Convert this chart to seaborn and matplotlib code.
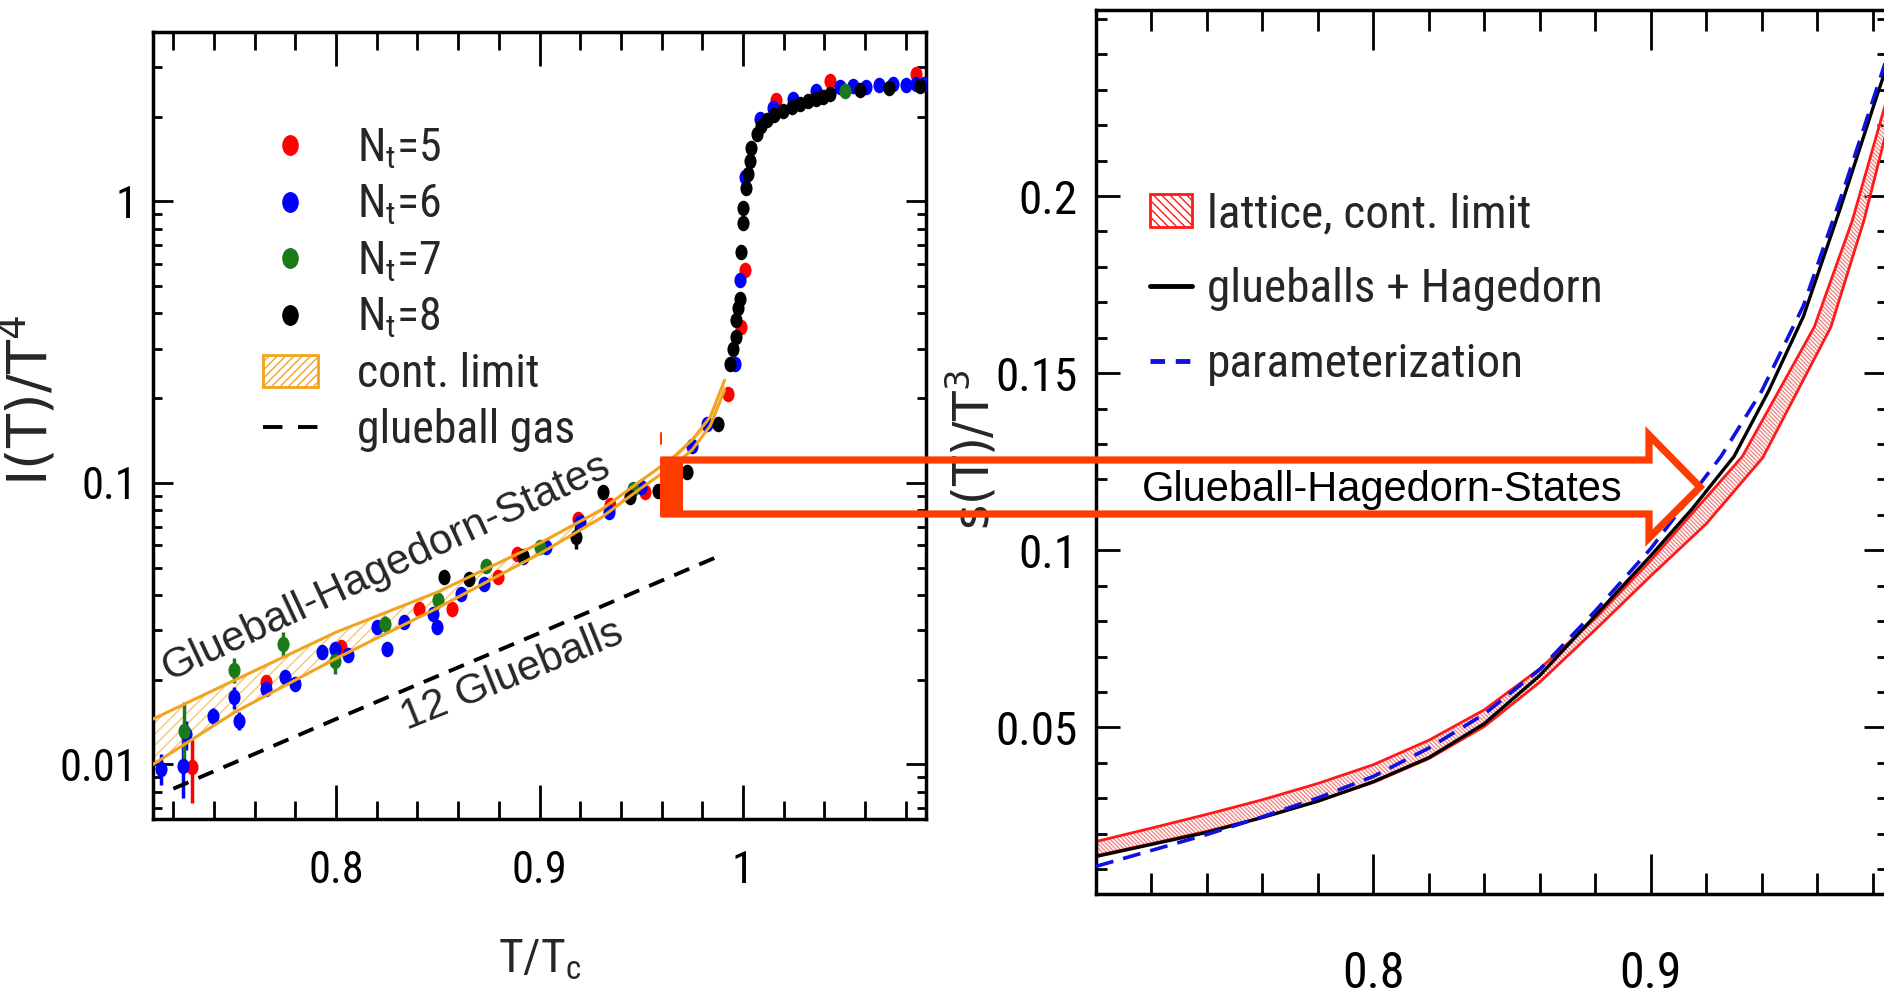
import numpy as np
import matplotlib
matplotlib.use("Agg")
import matplotlib.pyplot as plt
import matplotlib.ticker as mticker
import seaborn as sns
from matplotlib.lines import Line2D
from matplotlib.patches import Patch, Polygon, Rectangle
from matplotlib.path import Path

# ---------------- left panel: interaction measure I(T)/T^4 ----------------
T5 = [0.729, 0.7657, 0.8023, 0.8409, 0.8569, 0.8794, 0.8889, 0.919, 0.9349, 0.9519,
      0.965, 0.9927, 0.9993, 1.001, 1.0165, 1.0427, 1.085]
I5 = [0.0098, 0.0196, 0.0261, 0.0357, 0.0357, 0.0462, 0.0559, 0.0745, 0.0832, 0.0928,
      0.112, 0.2077, 0.357, 0.5694, 2.285, 2.69, 2.84]
E5 = [0.0025, 0.0012, 0.0012, 0.0012, 0.0012, 0.0015, 0.0015, 0.002, 0.002, 0.002,
      0.003, 0.006, 0.01, 0.015, 0.03, 0.03, 0.03]

T6 = [0.714, 0.7247, 0.726, 0.7393, 0.7497, 0.7525, 0.7657, 0.775, 0.7798, 0.793,
      0.7995, 0.8061, 0.8202, 0.8249, 0.8333, 0.8475, 0.8494, 0.8616, 0.8729, 0.8917,
      0.903, 0.9198, 0.934, 0.95, 0.975, 0.9821, 0.996, 0.9985, 1.0009, 1.0083,
      1.0148, 1.0246, 1.0361, 1.0476, 1.054, 1.0607, 1.067, 1.0738, 1.08, 1.085, 1.089]
I6 = [0.00965, 0.0099, 0.0128, 0.0149, 0.0173, 0.0143, 0.0186, 0.0204, 0.0193, 0.0251,
      0.0257, 0.0244, 0.0307, 0.0257, 0.0320, 0.0343, 0.0307, 0.0404, 0.0438, 0.0545,
      0.0591, 0.0724, 0.0786, 0.0965, 0.135, 0.162, 0.2646, 0.5263, 1.22, 1.97,
      2.15, 2.32, 2.47, 2.55, 2.58, 2.56, 2.60, 2.62, 2.60, 2.62, 2.61]
E6 = [0.0012, 0.0023, 0.0015, 0.001, 0.0015, 0.001, 0.001, 0.0012, 0.001, 0.0012,
      0.0015, 0.0012, 0.0012, 0.0015, 0.0012, 0.0012, 0.0015, 0.0015, 0.0015, 0.0015,
      0.002, 0.002, 0.002, 0.002, 0.003, 0.004, 0.006, 0.01, 0.02, 0.03,
      0.03, 0.03, 0.03, 0.03, 0.03, 0.03, 0.03, 0.03, 0.03, 0.03, 0.03]

T7 = [0.7252, 0.7497, 0.7741, 0.7995, 0.824, 0.8503, 0.8738, 0.9001, 0.9462, 1.05]
I7 = [0.0132, 0.0217, 0.0268, 0.0234, 0.0316, 0.0383, 0.0509, 0.0591, 0.0953, 2.47]
E7 = [0.0035, 0.0022, 0.0028, 0.0025, 0.002, 0.0025, 0.0015, 0.0015, 0.002, 0.03]

T8 = [0.8531, 0.8653, 0.8917, 0.918, 0.9312, 0.9444, 0.9583, 0.9726, 0.9878, 0.9935,
      0.9950, 0.9968, 0.9968, 0.9975, 0.9985, 0.9993, 1.0001, 1.0001, 1.0017, 1.0025,
      1.0034, 1.0042, 1.0067, 1.009, 1.0116, 1.0155, 1.0197, 1.024, 1.0279, 1.032,
      1.0361, 1.0395, 1.0427, 1.0574, 1.072, 1.0869]
I8 = [0.0462, 0.0456, 0.0552, 0.0642, 0.0928, 0.0891, 0.0939, 0.1092, 0.162, 0.2646,
      0.30, 0.33, 0.38, 0.42, 0.45, 0.66, 0.84, 0.95, 1.12, 1.25,
      1.39, 1.55, 1.73, 1.85, 1.94, 2.03, 2.10, 2.17, 2.22, 2.27,
      2.31, 2.36, 2.41, 2.49, 2.54, 2.57]
E8 = [0.002, 0.002, 0.002, 0.006, 0.003, 0.003, 0.003, 0.003, 0.004, 0.006,
      0.006, 0.008, 0.008, 0.01, 0.01, 0.01, 0.01, 0.01, 0.02, 0.02,
      0.02, 0.02, 0.02, 0.02, 0.02, 0.02, 0.02, 0.02, 0.02, 0.02,
      0.02, 0.02, 0.02, 0.02, 0.02, 0.02]

# continuum limit band
band_T = [0.71, 0.75, 0.80, 0.85, 0.90, 0.93, 0.95, 0.965, 0.975, 0.984, 0.991]
band_hi = [0.0145, 0.0199, 0.0295, 0.041, 0.061, 0.080, 0.102, 0.122, 0.142, 0.172, 0.232]
band_lo = [0.0100, 0.0153, 0.0238, 0.0360, 0.056, 0.075, 0.096, 0.114, 0.131, 0.160, 0.214]

# glueball gas (12 glueballs)
gas_T = [0.72, 0.80, 0.90, 0.99]
gas_I = [0.0082, 0.0145, 0.0293, 0.0557]

# ---------------- right panel: entropy s(T)/T^3 ----------------
lat_hi_T = [0.70, 0.72, 0.74, 0.76, 0.78, 0.80, 0.82, 0.84, 0.86, 0.88, 0.90, 0.915,
            0.933, 0.9589, 0.9726, 0.9855]
lat_hi = [0.0178, 0.0216, 0.0255, 0.0296, 0.0342, 0.0395, 0.0464, 0.0550, 0.0666,
          0.0808, 0.0972, 0.1105, 0.1265, 0.163, 0.193, 0.2285]
lat_lo_T = [0.70, 0.72, 0.74, 0.76, 0.78, 0.80, 0.82, 0.84, 0.86, 0.88, 0.90, 0.92,
            0.9404, 0.9649, 0.9768, 0.9855]
lat_lo = [0.0138, 0.0172, 0.0207, 0.0246, 0.0292, 0.0345, 0.0412, 0.0503, 0.0628,
          0.0776, 0.0928, 0.1075, 0.1262, 0.163, 0.193, 0.220]

gh_T = [0.70, 0.72, 0.74, 0.76, 0.78, 0.80, 0.82, 0.84, 0.86, 0.88, 0.90, 0.915,
        0.93, 0.9425, 0.955, 0.9685, 0.982, 0.9855]
gh_s = [0.0136, 0.0170, 0.0204, 0.0246, 0.0292, 0.0347, 0.0415, 0.0511, 0.0647,
        0.0816, 0.0985, 0.1118, 0.1265, 0.145, 0.166, 0.197, 0.2295, 0.2375]

par_T = [0.70, 0.72, 0.74, 0.76, 0.78, 0.80, 0.82, 0.84, 0.86, 0.88, 0.90, 0.9253,
         0.94, 0.955, 0.97, 0.9855]
par_s = [0.0108, 0.0153, 0.0198, 0.0248, 0.0301, 0.0362, 0.0442, 0.0538, 0.0664,
         0.0829, 0.1005, 0.1265, 0.145, 0.169, 0.203, 0.240]

nt_labels = ["N$_t$=5", "N$_t$=6", "N$_t$=7", "N$_t$=8"]
nt_colors = ["#ff0000", "#0000ff", "#1a7a1a", "#000000"]

ORANGE = "#f2a31f"
RED = "#ff1a1a"
ARROW = "#ff3c00"
NARROW = ["Liberation Sans Narrow", "Roboto Condensed", "DejaVu Sans Condensed",
          "Noto Sans Condensed", "Open Sans Condensed", "DejaVu Sans"]

sns.set_theme(style="ticks")
plt.rcParams["font.family"] = NARROW
plt.rcParams["font.stretch"] = "condensed"
plt.rcParams["mathtext.default"] = "regular"
plt.rcParams["hatch.linewidth"] = 1.0
plt.rcParams["axes.linewidth"] = 2.5

W, H = 1884, 996
fig = plt.figure(figsize=(W / 100, H / 100), dpi=100)
ax1 = fig.add_axes([153 / W, 1 - 819 / H, 773 / W, 787 / H])
ax2 = fig.add_axes([1096 / W, 1 - 894 / H, 792 / W, 884 / H])

# elongated dot like in the original picture
circ = Path.unit_circle()
dot = Path(circ.vertices * np.array([0.78, 1.0]), circ.codes)

# ---- left panel
ax1.fill_between(band_T, band_lo, band_hi, facecolor="none", edgecolor="#f6c77a",
                 hatch="///", linewidth=0, zorder=1)
for T, I, E, c in zip([T5, T6, T7, T8], [I5, I6, I7, I8], [E5, E6, E7, E8], nt_colors):
    ax1.errorbar(T, I, yerr=E, fmt="none", ecolor=c, elinewidth=2.5, capsize=0, zorder=2)
    sns.scatterplot(x=T, y=I, ax=ax1, color=c, marker=dot, s=125, linewidth=0,
                    legend=False, zorder=3)
sns.lineplot(x=band_T, y=band_hi, ax=ax1, color=ORANGE, lw=2.2, estimator=None, zorder=4)
sns.lineplot(x=band_T, y=band_lo, ax=ax1, color=ORANGE, lw=2.2, estimator=None, zorder=4)
sns.lineplot(x=gas_T, y=gas_I, ax=ax1, color="black", lw=2.8, estimator=None, zorder=4)
ax1.lines[-1].set_dashes([4.2, 2.8])

ax1.set_yscale("log")
ax1.set_xlim(0.71, 1.09)
ax1.set_ylim(0.0064, 4.0)
ax1.xaxis.set_major_locator(mticker.FixedLocator([0.8, 0.9, 1.0]))
ax1.xaxis.set_minor_locator(mticker.MultipleLocator(0.02))
ax1.xaxis.set_major_formatter(mticker.FuncFormatter(lambda v, p: f"{v:g}"))
ax1.yaxis.set_major_locator(mticker.FixedLocator([0.01, 0.1, 1.0]))
ax1.yaxis.set_minor_locator(mticker.LogLocator(base=10, subs=np.arange(2, 10)))
ax1.yaxis.set_major_formatter(mticker.FuncFormatter(lambda v, p: f"{v:g}"))
ax1.yaxis.set_minor_formatter(mticker.NullFormatter())
ax1.tick_params(which="both", direction="in", top=True, right=True, width=2, colors="black")
ax1.tick_params(axis="x", which="major", length=24.5, pad=22, labelsize=32)
ax1.tick_params(axis="x", which="minor", length=13)
ax1.tick_params(axis="y", which="major", length=14.5, pad=11, labelsize=32)
ax1.tick_params(axis="y", which="minor", length=6.5)
ax1.set_xlabel("T/T$_c$", fontsize=34)
ax1.xaxis.set_label_coords(0.5, -0.179)
ax1.xaxis.label.set_verticalalignment("center")
ax1.set_ylabel("I(T)/T$^4$", fontsize=40, family="DejaVu Sans", stretch="normal")
ax1.yaxis.set_label_coords(-0.162, 0.532)
ax1.yaxis.label.set_verticalalignment("center")

h_left = [Line2D([], [], marker=dot, ls="none", color=c, markersize=14) for c in nt_colors]
h_left.append(Patch(facecolor="none", edgecolor=ORANGE, hatch="////", linewidth=2))
h_left.append(Line2D([], [], color="black", lw=2.8, dashes=[5, 4]))
ax1.legend(h_left, nt_labels + ["cont. limit", "glueball gas"], loc="upper left",
           bbox_to_anchor=(0.1423, 0.880), frameon=False, fontsize=33,
           handlelength=1.2, handletextpad=0.85, labelspacing=0.26,
           borderpad=0, borderaxespad=0)

ax1.text(0.8272, 0.04628, "Glueball-Hagedorn-States", rotation=25,
         rotation_mode="anchor", ha="center", va="baseline", fontsize=30.5,
         family="Liberation Sans", stretch="normal", zorder=6)
ax1.text(0.8884, 0.01908, "12 Glueballs", rotation=22, rotation_mode="anchor",
         ha="center", va="baseline", fontsize=30.5, family="Liberation Sans",
         stretch="normal", zorder=6)

# ---- right panel
ax2.fill(lat_hi_T + lat_lo_T[::-1], lat_hi + lat_lo[::-1], facecolor="none",
         edgecolor="#f08a8a", hatch="\\\\\\\\\\\\\\\\", linewidth=0, zorder=1)
sns.lineplot(x=lat_hi_T, y=lat_hi, ax=ax2, color=RED, lw=2.0, estimator=None, zorder=2)
sns.lineplot(x=lat_lo_T, y=lat_lo, ax=ax2, color=RED, lw=2.0, estimator=None, zorder=2)
sns.lineplot(x=gh_T, y=gh_s, ax=ax2, color="black", lw=2.4, estimator=None, zorder=3)
sns.lineplot(x=par_T, y=par_s, ax=ax2, color="#1010e0", lw=2.6, estimator=None, zorder=4)
ax2.lines[-1].set_dashes([5, 2.8])

ax2.set_xlim(0.70, 0.9855)
ax2.set_ylim(0.003, 0.2525)
ax2.xaxis.set_major_locator(mticker.FixedLocator([0.8, 0.9]))
ax2.xaxis.set_minor_locator(mticker.MultipleLocator(0.02))
ax2.xaxis.set_major_formatter(mticker.FuncFormatter(lambda v, p: f"{v:g}"))
ax2.yaxis.set_major_locator(mticker.FixedLocator([0.05, 0.1, 0.15, 0.2]))
ax2.yaxis.set_minor_locator(mticker.MultipleLocator(0.01))
ax2.yaxis.set_major_formatter(mticker.FuncFormatter(lambda v, p: f"{v:g}"))
ax2.tick_params(which="both", direction="in", top=True, right=True, width=2, colors="black")
ax2.tick_params(axis="x", which="major", length=29, pad=40, labelsize=36)
ax2.tick_params(axis="x", which="minor", length=15)
ax2.tick_params(axis="y", which="major", length=17, pad=13.5, labelsize=34)
ax2.tick_params(axis="y", which="minor", length=8)
ax2.set_xlabel("")
ax2.set_ylabel("s(T)/T$^3$", fontsize=35, family="DejaVu Sans", stretch="normal")
ax2.yaxis.set_label_coords(-0.156, 0.502)
ax2.yaxis.label.set_verticalalignment("center")

h_right = [Patch(facecolor="none", edgecolor=RED, hatch="\\\\\\\\", linewidth=2),
           Line2D([], [], color="black", lw=3.5),
           Line2D([], [], color="#1010e0", lw=3.5, dashes=[3, 2.2])]
ax2.legend(h_right, ["lattice, cont. limit", "glueballs + Hagedorn", "parameterization"],
           loc="upper left", bbox_to_anchor=(0.068, 0.794), frameon=False, fontsize=34,
           handlelength=0.9, handletextpad=0.3, labelspacing=0.66,
           borderpad=0, borderaxespad=0)

for ax in (ax1, ax2):
    for sp in ax.spines.values():
        sp.set_color("black")
        sp.set_linewidth(2.5)


# ---- overlay arrow linking the two panels (figure pixel coordinates)
def px(x, y):
    return (x / W, 1 - y / H)


arrow_pts = [px(664, 460), px(1649, 460), px(1649, 435), px(1700, 487),
             px(1649, 538), px(1649, 514), px(664, 514)]
fig.add_artist(Polygon(arrow_pts, closed=True, fill=False, edgecolor=ARROW, lw=5.2,
                       joinstyle="miter", transform=fig.transFigure, zorder=20))
fig.add_artist(Rectangle(px(660, 516), 23 / W, 58 / H, facecolor=ARROW, edgecolor="none",
                         transform=fig.transFigure, zorder=20))
fig.add_artist(Line2D([661 / W, 661 / W], [1 - 433 / H, 1 - 444 / H], color=ARROW, lw=1.5,
                      transform=fig.transFigure, zorder=20))
fig.text(1382 / W, 1 - 490 / H, "Glueball-Hagedorn-States", ha="center", va="center",
         fontsize=30, family="Liberation Sans", stretch="normal", color="black", zorder=21)

fig.savefig("out.png", dpi=100)
